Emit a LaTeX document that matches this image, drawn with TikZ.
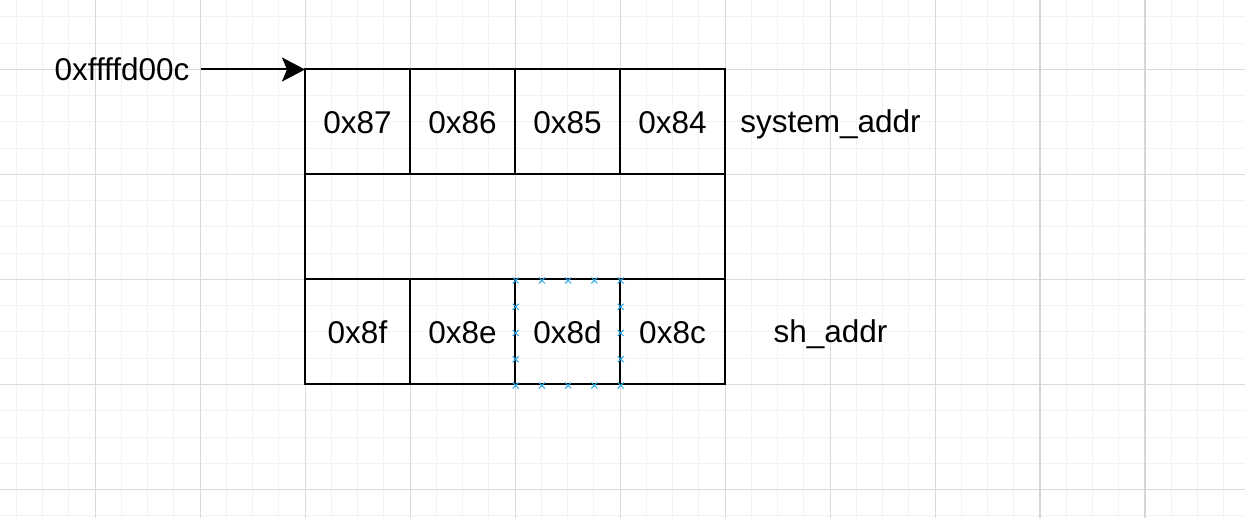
\documentclass[tikz,border=0pt]{standalone}
\usepackage{fontspec}
\setmainfont{Liberation Sans}
\usetikzlibrary{arrows.meta,calc}
\definecolor{gridminor}{HTML}{F2F2F2}
\definecolor{gridmajor}{HTML}{DADADA}
\definecolor{gridpage}{HTML}{D6D6D6}
\definecolor{selblue}{HTML}{29A9E8}
\tikzset{
  txt/.style={font=\fontsize{31.5pt}{36pt}\selectfont, inner sep=0pt},
  cell/.style={txt, draw=black, line width=2pt, outer sep=0pt,
    minimum width=105pt, minimum height=105pt, text height=22.6pt, text depth=0pt},
  wide/.style={cell, minimum width=420pt},
  conn/.style={line width=2pt, -{Stealth[length=23pt,width=24pt,inset=5pt]}},
  mk/.style={selblue, line width=1pt},
}
\begin{document}
\begin{tikzpicture}[x=1pt,y=-1pt]
\useasboundingbox (0,0) rectangle (1245,518);
\fill[white] (0,0) rectangle (1245,518);
% grid
\foreach \k in {0,...,47} \draw[gridminor,line width=1pt] (16.25+26.25*\k,0) -- (16.25+26.25*\k,518);
\foreach \k in {0,...,19} \draw[gridminor,line width=1pt] (0,17+26.25*\k) -- (1245,17+26.25*\k);
\foreach \k in {0,...,8} \draw[gridmajor,line width=1pt] (95+105*\k,0) -- (95+105*\k,518);
\foreach \k in {1,...,5} \draw[gridmajor,line width=1pt] (0,-35.5+105*\k) -- (1245,-35.5+105*\k);
\foreach \x in {1040,1145} \draw[gridpage,line width=1.3pt] (\x,0) -- (\x,518);
% cells
\node[cell] (c87) at (357.5,122) {0x87};
\node[cell] (c86) at (462.5,122) {0x86};
\node[cell] (c85) at (567.5,122) {0x85};
\node[cell] (c84) at (672.5,122) {0x84};
\node[wide] (mid) at (515,227) {};
\node[cell] (c8f) at (357.5,332) {0x8f};
\node[cell] (c8e) at (462.5,332) {0x8e};
\node[cell] (c8d) at (567.5,332) {0x8d};
\node[cell] (c8c) at (672.5,332) {0x8c};
% labels
\node[txt, anchor=base] (sys) at (830.5,132.5) {system\_addr};
\node[txt, anchor=base] (sh) at (830.5,342.5) {sh\_addr};
\node[txt, inner xsep=11pt] (ptr) at (122,69.5) {0xffffd00c};
\draw[conn] (ptr.east) -- (c87.north west);
% selection markers
\foreach \t in {0,0.25,0.5,0.75,1} {
  \draw[mk] ($(c8d.north west)!\t!(c8d.north east)+(0.7,1)$) +(-3,-3) -- +(3,3) +(-3,3) -- +(3,-3);
  \draw[mk] ($(c8d.south west)!\t!(c8d.south east)+(0.7,1)$) +(-3,-3) -- +(3,3) +(-3,3) -- +(3,-3);
}
\foreach \t in {0.25,0.5,0.75} {
  \draw[mk] ($(c8d.north west)!\t!(c8d.south west)+(0.7,1)$) +(-3,-3) -- +(3,3) +(-3,3) -- +(3,-3);
  \draw[mk] ($(c8d.north east)!\t!(c8d.south east)+(0.7,1)$) +(-3,-3) -- +(3,3) +(-3,3) -- +(3,-3);
}
\end{tikzpicture}
\end{document}
